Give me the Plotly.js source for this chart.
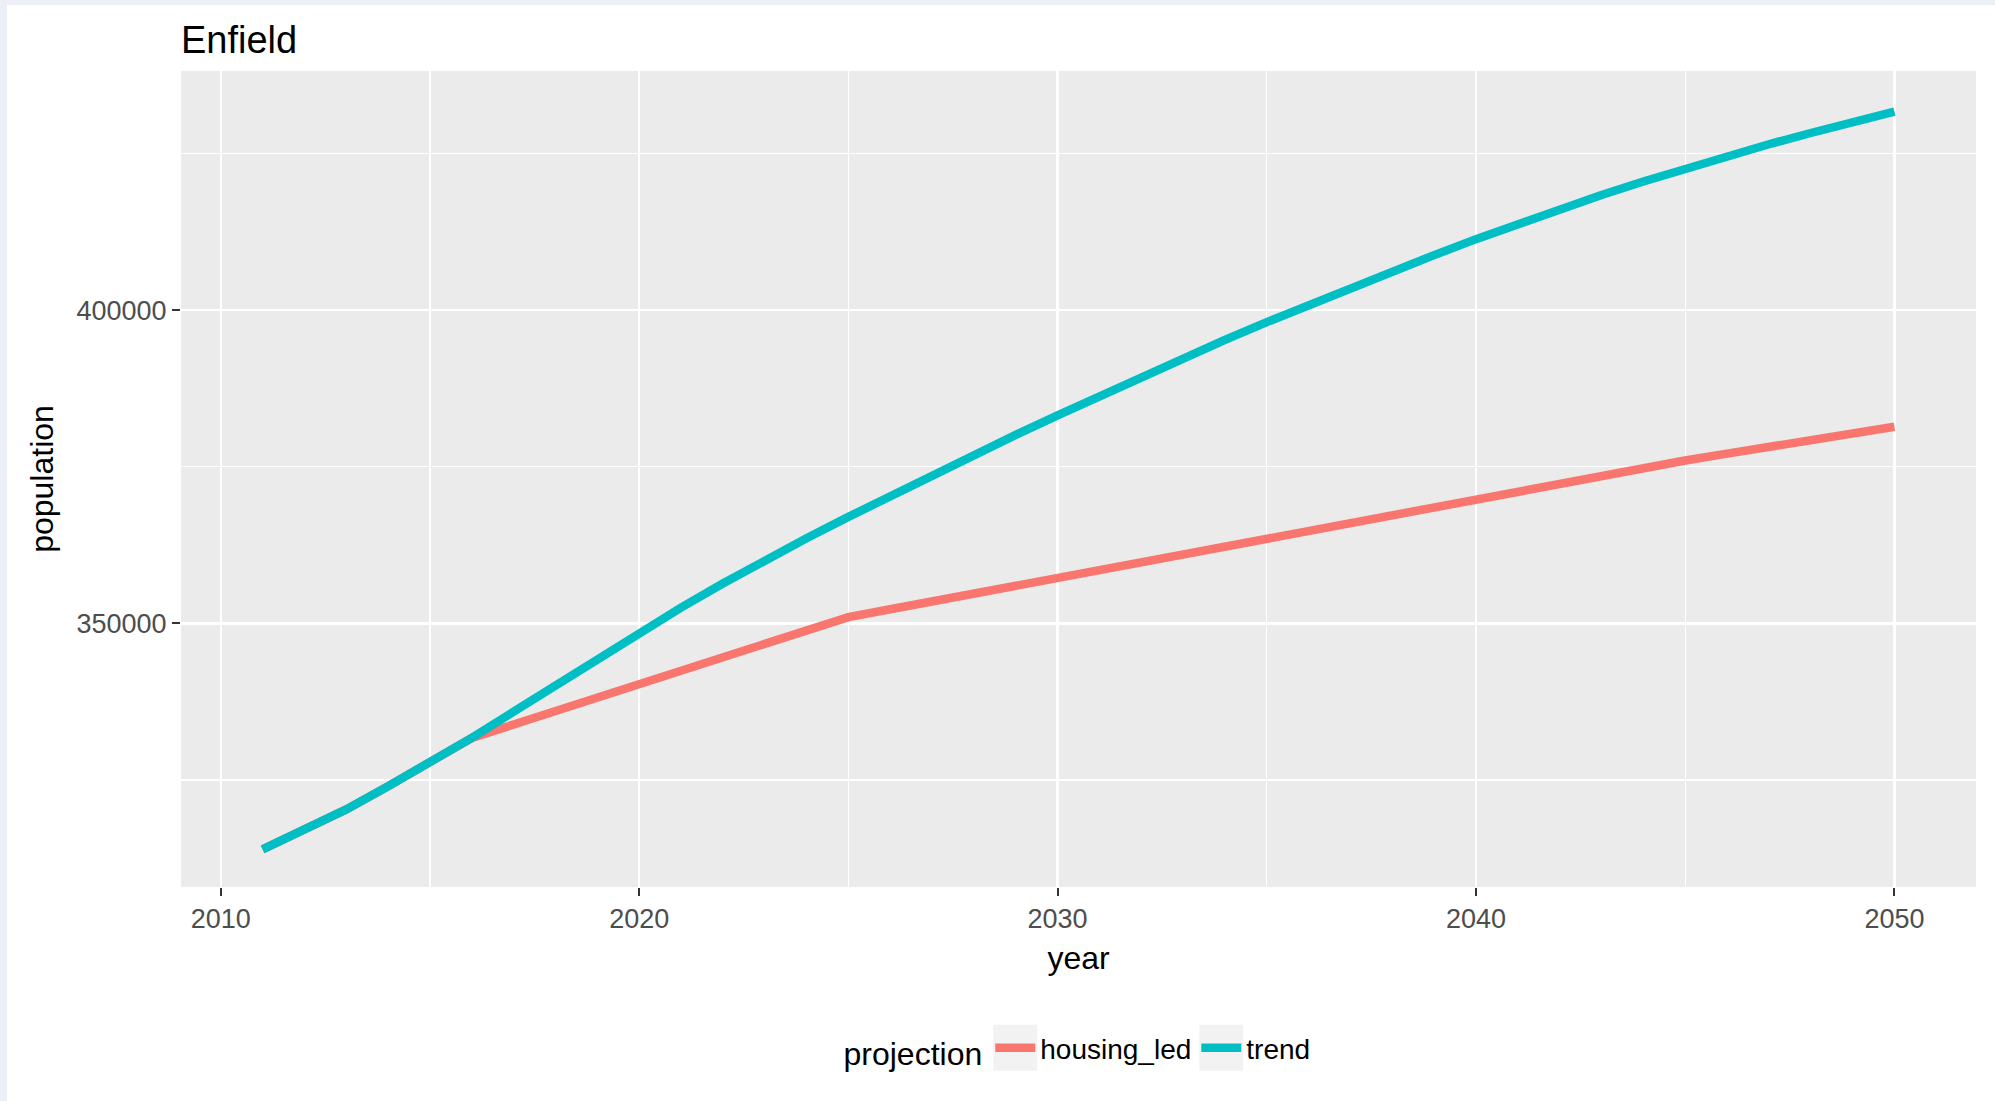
<!DOCTYPE html>
<html>
<head>
<meta charset="utf-8">
<script src="https://cdn.plot.ly/plotly-3.0.1.min.js"></script>
<style>
  html, body { margin: 0; padding: 0; background: #eceff5; width: 1995px; height: 1101px; overflow: hidden; }
  #chart { position: absolute; left: 7px; top: 5px; width: 1988px; height: 1096px; }
</style>
</head>
<body>
<div id="chart"></div>
<script>
// ---- data ----
const years = [2011,2012,2013,2014,2015,2016,2017,2018,2019,2020,
               2021,2022,2023,2024,2025,2026,2027,2028,2029,2030,
               2031,2032,2033,2034,2035,2036,2037,2038,2039,2040,
               2041,2042,2043,2044,2045,2046,2047,2048,2049,2050];

const trend = [313900,317000,320300,324000,327700,331700,335900,340150,344350,348500,
               352500,356350,360050,363600,367000,370350,373650,376900,380100,383200,
               386300,389350,392350,395250,398100,400850,403550,406200,408800,411350,
               413800,416150,418400,420550,422600,424600,426500,428300,430000,431700];

const housingLed = [313900,317000,320300,324000,327700,331700,333850,336000,338150,340300,
                    342450,344600,346700,348850,351000,352250,353500,354750,356000,357250,
                    358550,359850,361150,362450,363700,364950,366200,367450,368700,369950,
                    371200,372450,373650,374850,376000,377100,378200,379250,380350,381400];

const seriesNames = ["housing_led", "trend"];
const chartTitle = "Enfield";
const xTitle = "year";
const yTitle = "population";
const legendTitle = "projection";
const xTickVals = [2010, 2020, 2030, 2040, 2050];
const xMinorVals = [2015, 2025, 2035, 2045];
const yTickVals = [350000, 400000];
const yMinorVals = [325000, 375000, 425000];

// ---- styling ----
const FONT = "Liberation Sans, Arial, Helvetica, sans-serif";
const colors = ["#F8766D", "#00BFC4"];

const traces = [
  { x: years, y: housingLed, name: seriesNames[0], type: "scatter", mode: "lines",
    line: { color: colors[0], width: 8.5 } },
  { x: years, y: trend, name: seriesNames[1], type: "scatter", mode: "lines",
    line: { color: colors[1], width: 8.5 } }
];

const layout = {
  width: 1988, height: 1096,
  paper_bgcolor: "#ffffff",
  plot_bgcolor: "#ebebeb",
  margin: { l: 174, r: 19, t: 66, b: 214 },
  font: { family: FONT, color: "#000000" },
  title: {
    text: chartTitle,
    font: { family: FONT, size: 38, color: "#000000" },
    xref: "paper", x: 0, xanchor: "left",
    yref: "container", y: 1 - 35/1096, yanchor: "middle"
  },
  xaxis: {
    range: [2009.05, 2051.95],
    tickvals: xTickVals, ticktext: xTickVals.map(String),
    showgrid: true, gridcolor: "#ffffff", gridwidth: 2.4,
    minor: { tickvals: xMinorVals, showgrid: true, gridcolor: "#ffffff", gridwidth: 1.2, ticklen: 0 },
    zeroline: false, showline: false,
    ticks: "outside", ticklen: 8, tickwidth: 2, tickcolor: "#333333",
    tickfont: { family: FONT, size: 27, color: "#4d4d4d" },
    title: { text: xTitle, font: { family: FONT, size: 32, color: "#000000" }, standoff: 13 },
    fixedrange: true
  },
  yaxis: {
    range: [307900, 438200],
    tickvals: yTickVals, ticktext: yTickVals.map(String),
    showgrid: true, gridcolor: "#ffffff", gridwidth: 2.4,
    minor: { tickvals: yMinorVals, showgrid: true, gridcolor: "#ffffff", gridwidth: 1.2, ticklen: 0 },
    zeroline: false, showline: false,
    ticks: "outside", ticklen: 8, tickwidth: 2, tickcolor: "#333333",
    tickfont: { family: FONT, size: 27, color: "#4d4d4d" },
    title: { text: yTitle, font: { family: FONT, size: 32, color: "#000000" }, standoff: 13 },
    fixedrange: true
  },
  showlegend: true,
  legend: {
    orientation: "h",
    xref: "paper", x: 0.5, xanchor: "center",
    yref: "container", y: 1 - (1049 - 5)/1096, yanchor: "middle",
    title: { text: legendTitle, side: "left", font: { family: FONT, size: 32, color: "#000000" } },
    font: { family: FONT, size: 28, color: "#000000" },
    bgcolor: "rgba(0,0,0,0)",
    itemwidth: 40,
    traceorder: "normal"
  }
};

const gd = document.getElementById("chart");
Plotly.newPlot(gd, traces, layout, { displayModeBar: false, staticPlot: true }).then(function () {
  // light grey key backgrounds behind the legend keys, placed from the legend's own geometry
  const box = gd.getBoundingClientRect();
  const sz = gd._fullLayout._size;
  const shapes = [];
  gd.querySelectorAll(".legend .traces path.js-line").forEach(function (p) {
    const b = p.getBoundingClientRect();
    const cx = (b.left + b.right) / 2 - box.left;
    const cy = (b.top + b.bottom) / 2 - box.top;
    const hw = 22, hh = 23;
    shapes.push({
      type: "rect", xref: "paper", yref: "paper", layer: "below",
      x0: (cx - hw - sz.l) / sz.w, x1: (cx + hw - sz.l) / sz.w,
      y0: 1 - (cy + hh - sz.t) / sz.h, y1: 1 - (cy - hh - sz.t) / sz.h,
      fillcolor: "#f2f2f2", line: { width: 0 }
    });
  });
  return Plotly.relayout(gd, { shapes: shapes });
});
</script>
</body>
</html>
